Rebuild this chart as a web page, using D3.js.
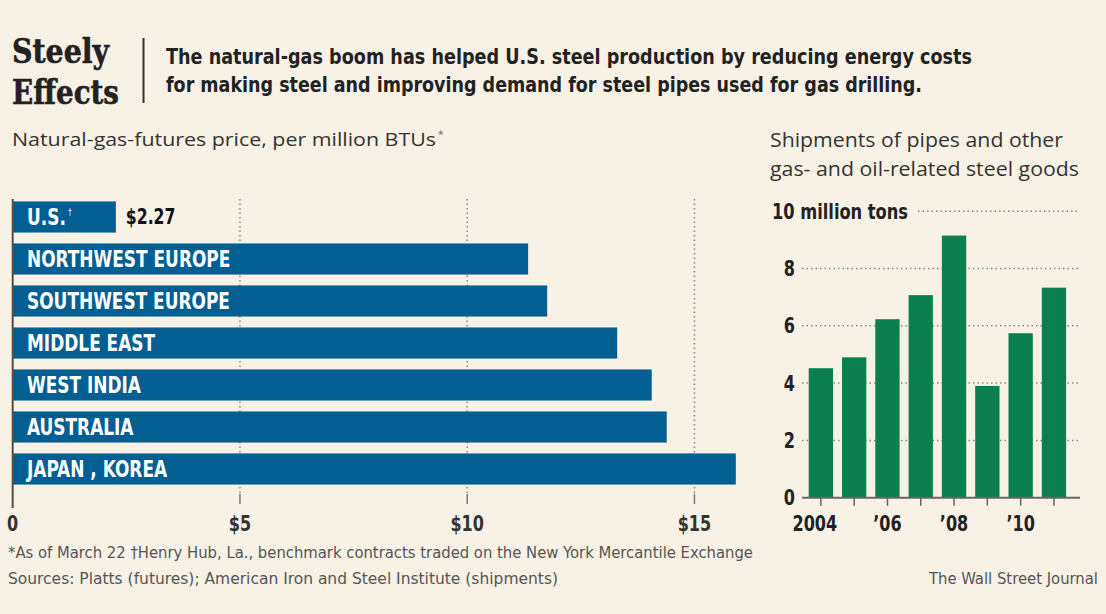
<!DOCTYPE html>
<html>
<head>
<meta charset="utf-8">
<script src="https://cdn.jsdelivr.net/npm/d3@7"></script>
<style>
  html, body { margin: 0; padding: 0; background: #f7f1e6; }
  svg { display: block; }
</style>
</head>
<body>
<div id="chart"></div>
<script>
// Natural-gas-futures price, per million BTUs
const regions = ["U.S.", "NORTHWEST EUROPE", "SOUTHWEST EUROPE", "MIDDLE EAST", "WEST INDIA", "AUSTRALIA", "JAPAN , KOREA"];
const prices = [2.27, 11.34, 11.76, 13.30, 14.06, 14.39, 15.91];
const priceTicks = [0, 5, 10, 15];
const priceTickLabels = ["0", "$5", "$10", "$15"];

// Shipments of pipes and other gas- and oil-related steel goods (million tons)
const years = [2004, 2005, 2006, 2007, 2008, 2009, 2010, 2011];
const shipments = [4.52, 4.90, 6.23, 7.07, 9.15, 3.90, 5.74, 7.33];
const shipTicks = [0, 2, 4, 6, 8, 10];
const yearLabels = { 2004: "2004", 2006: "\u201906", 2008: "\u201908", 2010: "\u201910" };

const W = 1106, H = 614;
const narrow = "'Liberation Sans Narrow', 'DejaVu Sans Condensed', 'Liberation Sans', sans-serif";
const sans = "'Open Sans', 'Noto Sans', 'DejaVu Sans', sans-serif";
const blue = "#035e92", green = "#0b7f50", ink = "#222";

// squeeze text horizontally (about its anchor x) to imitate the narrow WSJ face
function squeeze(sel, k) {
  sel.attr("transform", function() {
    const ax = +d3.select(this).attr("x");
    return `translate(${ax * (1 - k)},0) scale(${k},1)`;
  });
}

const svg = d3.select("#chart").append("svg")
    .attr("width", W)
    .attr("height", H)
    .style("background", "#f7f1e6");

// ---- headline
svg.append("text")
    .attr("x", 12).attr("y", 63)
    .attr("font-family", "'DejaVu Serif', serif")
    .attr("font-weight", "bold")
    .attr("font-size", 33)
    .attr("fill", ink)
    .attr("stroke", ink).attr("stroke-width", 0.6)
    .attr("textLength", 97).attr("lengthAdjust", "spacingAndGlyphs")
    .text("Steely");
svg.append("text")
    .attr("x", 12).attr("y", 104)
    .attr("font-family", "'DejaVu Serif', serif")
    .attr("font-weight", "bold")
    .attr("font-size", 33)
    .attr("fill", ink)
    .attr("stroke", ink).attr("stroke-width", 0.6)
    .attr("textLength", 107).attr("lengthAdjust", "spacingAndGlyphs")
    .text("Effects");

svg.append("line")
    .attr("x1", 143.5).attr("x2", 143.5)
    .attr("y1", 38).attr("y2", 103)
    .attr("stroke", "#333").attr("stroke-width", 2);

const dek = [
  ["The natural-gas boom has helped U.S. steel production by reducing energy costs", 806],
  ["for making steel and improving demand for steel pipes used for gas drilling.", 756]
];
dek.forEach((d, i) => {
  svg.append("text")
      .attr("x", 166).attr("y", 64 + i * 28)
      .attr("font-family", narrow)
      .attr("font-weight", "bold")
      .attr("font-size", 22)
      .attr("fill", ink)
      .attr("textLength", d[1]).attr("lengthAdjust", "spacingAndGlyphs")
      .text(d[0]);
});

// ---- left chart: horizontal bars
const x = d3.scaleLinear().domain([0, 16]).range([12.7, 12.7 + 16 * 45.45]);
const yb = d3.scaleBand().domain(regions).range([196, 490]).paddingInner(0.26).paddingOuter(0.13);

svg.append("text")
    .attr("x", 12).attr("y", 146)
    .attr("font-family", sans)
    .attr("font-size", 19)
    .attr("fill", "#333")
    .attr("textLength", 424).attr("lengthAdjust", "spacingAndGlyphs")
    .text("Natural-gas-futures price, per million BTUs");
svg.append("text")
    .attr("x", 438).attr("y", 138)
    .attr("font-family", sans)
    .attr("font-size", 10)
    .attr("fill", "#666")
    .text("*");

const grid = svg.append("g");
grid.selectAll("line.dot")
    .data(priceTicks.filter(d => d > 0))
    .join("line")
    .attr("x1", d => x(d)).attr("x2", d => x(d))
    .attr("y1", 199).attr("y2", 496)
    .attr("stroke", "#8a8a8a").attr("stroke-width", 1.5)
    .attr("stroke-dasharray", "1.5,3");
grid.selectAll("line.tick")
    .data(priceTicks.filter(d => d > 0))
    .join("line")
    .attr("x1", d => x(d)).attr("x2", d => x(d))
    .attr("y1", 494).attr("y2", 504)
    .attr("stroke", "#777").attr("stroke-width", 1.5);

svg.selectAll("rect.price")
    .data(regions)
    .join("rect")
    .attr("class", "price")
    .attr("x", x(0))
    .attr("y", d => yb(d))
    .attr("width", (d, i) => x(prices[i]) - x(0))
    .attr("height", yb.bandwidth())
    .attr("fill", blue);

svg.append("line")
    .attr("x1", x(0)).attr("x2", x(0))
    .attr("y1", 199).attr("y2", 508)
    .attr("stroke", "#5a4e44").attr("stroke-width", 2);

const labels = svg.selectAll("text.region")
    .data(regions)
    .join("text")
    .attr("class", "region")
    .attr("x", 27)
    .attr("y", d => yb(d) + yb.bandwidth() / 2 + 8)
    .attr("font-family", narrow)
    .attr("font-weight", "bold")
    .attr("font-size", 23)
    .attr("fill", "#fff")
    .text(d => d);
// dagger footnote mark on the U.S. label
labels.filter(d => d === "U.S.")
    .append("tspan")
    .attr("dx", 3)
    .attr("dy", -10)
    .attr("font-size", 9)
    .attr("font-weight", "normal")
    .text("\u2020");
squeeze(labels, 0.82);

const valueLabel = svg.append("text")
    .attr("x", x(prices[0]) + 10)
    .attr("y", yb(regions[0]) + yb.bandwidth() / 2 + 7)
    .attr("font-family", narrow)
    .attr("font-weight", "bold")
    .attr("font-size", 21)
    .attr("fill", "#111")
    .text("$" + d3.format(".2f")(prices[0]));
squeeze(valueLabel, 0.83);

const xTickLabels = svg.selectAll("text.xtick")
    .data(priceTicks)
    .join("text")
    .attr("class", "xtick")
    .attr("x", d => x(d))
    .attr("y", 531)
    .attr("text-anchor", "middle")
    .attr("font-family", narrow)
    .attr("font-weight", "bold")
    .attr("font-size", 21)
    .attr("fill", "#333")
    .text((d, i) => priceTickLabels[i]);
squeeze(xTickLabels, 0.85);

// ---- right chart: columns
const xr = d3.scaleBand().domain(years).range([804.2, 1070.6]).paddingInner(0.27).paddingOuter(0.135);
const yr = d3.scaleLinear().domain([0, 10]).range([497.7, 211.2]);

["Shipments of pipes and other", "gas- and oil-related steel goods"].forEach((t, i) => {
  svg.append("text")
      .attr("x", 770).attr("y", 147 + i * 29)
      .attr("font-family", sans)
      .attr("font-size", 19.5)
      .attr("fill", "#333")
      .attr("textLength", i ? 309 : 293).attr("lengthAdjust", "spacingAndGlyphs")
      .text(t);
});

svg.selectAll("line.ygrid")
    .data(shipTicks.filter(d => d > 0))
    .join("line")
    .attr("class", "ygrid")
    .attr("x1", d => d === 10 ? 918 : 802)
    .attr("x2", 1080)
    .attr("y1", d => yr(d)).attr("y2", d => yr(d))
    .attr("stroke", "#8a8a8a").attr("stroke-width", 1.5)
    .attr("stroke-dasharray", "1.5,3");

svg.selectAll("rect.ship")
    .data(years)
    .join("rect")
    .attr("class", "ship")
    .attr("x", d => xr(d))
    .attr("y", (d, i) => yr(shipments[i]))
    .attr("width", xr.bandwidth())
    .attr("height", (d, i) => yr(0) - yr(shipments[i]))
    .attr("fill", green);

svg.append("line")
    .attr("x1", 802).attr("x2", 1080)
    .attr("y1", yr(0)).attr("y2", yr(0))
    .attr("stroke", "#666").attr("stroke-width", 2);

svg.selectAll("line.xtick")
    .data(years)
    .join("line")
    .attr("x1", d => xr(d) + xr.bandwidth() / 2)
    .attr("x2", d => xr(d) + xr.bandwidth() / 2)
    .attr("y1", yr(0)).attr("y2", yr(0) + 8)
    .attr("stroke", "#666").attr("stroke-width", 1.5);

const yearText = svg.selectAll("text.yearlab")
    .data(years.filter(d => yearLabels[d]))
    .join("text")
    .attr("class", "yearlab")
    .attr("x", d => xr(d) + xr.bandwidth() / 2 - (d === 2004 ? 6 : 0))
    .attr("y", 531)
    .attr("text-anchor", "middle")
    .attr("font-family", narrow)
    .attr("font-weight", "bold")
    .attr("font-size", 21)
    .attr("fill", "#222")
    .text(d => yearLabels[d]);
squeeze(yearText, 0.85);

const yText = svg.selectAll("text.ylab")
    .data(shipTicks.filter(d => d < 10))
    .join("text")
    .attr("class", "ylab")
    .attr("x", 795)
    .attr("y", d => yr(d) + 7.5)
    .attr("text-anchor", "end")
    .attr("font-family", narrow)
    .attr("font-weight", "bold")
    .attr("font-size", 21)
    .attr("fill", "#222")
    .text(d => d);
squeeze(yText, 0.85);
svg.append("text")
    .attr("x", 772)
    .attr("y", yr(10) + 8)
    .attr("font-family", narrow)
    .attr("font-weight", "bold")
    .attr("font-size", 21)
    .attr("fill", "#222")
    .attr("textLength", 136).attr("lengthAdjust", "spacingAndGlyphs")
    .text("10 million tons");

// ---- footnotes
const foot = svg.append("g")
    .attr("font-family", narrow)
    .attr("font-size", 16.5)
    .attr("fill", "#555");
foot.append("text")
    .attr("x", 8).attr("y", 558)
    .attr("textLength", 745).attr("lengthAdjust", "spacingAndGlyphs")
    .text("*As of March 22  \u2020Henry Hub, La., benchmark contracts traded on the New York Mercantile Exchange");
foot.append("text")
    .attr("x", 8).attr("y", 584)
    .attr("textLength", 550).attr("lengthAdjust", "spacingAndGlyphs")
    .text("Sources: Platts (futures); American Iron and Steel Institute (shipments)");
foot.append("text")
    .attr("x", 1098).attr("y", 584)
    .attr("text-anchor", "end")
    .text("The Wall Street Journal");
</script>
</body>
</html>
